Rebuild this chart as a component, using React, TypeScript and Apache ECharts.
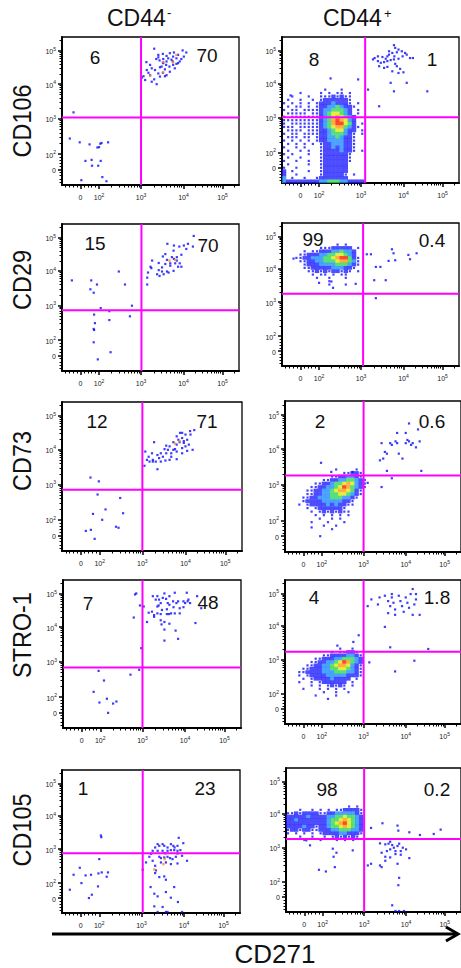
import React, { useEffect, useRef } from "react";
import * as echarts from "echarts";

// ---------------- axis (biexponential display units) ----------------
const axisMin = 1.1;
const axisMax = 5.4;
const xTickValues = [1.55, 2, 3.02, 4.05, 5];
const yTickValues = [1.55, 2, 3.02, 4.03, 5];
const tickBases = ["0", "10", "10", "10", "10"];
const tickExponents = ["", "2", "3", "4", "5"];

// ---------------- texts ----------------
const columnLabels = ["CD44", "CD44"];
const columnSigns = ["-", "+"];
const rowLabels = ["CD106", "CD29", "CD73", "STRO-1", "CD105"];
const xAxisTitle = "CD271";

// quadrant percentages [upper-left, upper-right]
const negPercents = [["6", "70"], ["15", "70"], ["12", "71"], ["7", "48"], ["1", "23"]];
const posPercents = [["8", "1"], ["99", "0.4"], ["2", "0.6"], ["4", "1.8"], ["98", "0.2"]];

// quadrant gates [x, y]
const negGates = [[3.02, 3.06], [3.03, 2.88], [3.02, 2.87], [3.02, 2.86], [3.05, 2.9]];
const posGates = [[3.12, 3.04], [3.07, 3.27], [3.02, 3.28], [3.02, 3.26], [3.02, 3.28]];

// ---------------- CD44- events ----------------
const cd106NegDots = [
  [3.34,5.06],[3.15,4.67],[3.24,4.59],[3.44,4.88],[3.55,4.91],[3.64,4.85],[3.72,4.93],[3.82,4.95],[3.92,4.88],[4.03,5.01],
  [4.12,4.95],[3.88,4.78],[3.76,4.74],[3.64,4.69],[3.56,4.64],[3.47,4.72],[3.39,4.76],[3.28,4.49],[3.36,4.44],[3.48,4.52],
  [3.6,4.46],[3.71,4.54],[3.8,4.59],[3.92,4.64],[4.0,4.76],[4.06,4.83],[3.55,4.36],[3.64,4.29],[3.24,4.29],[3.12,4.15],
  [3.28,4.1],[3.4,4.03],[3.34,4.17],[3.48,4.25],[3.6,4.26],[3.72,4.39],[3.84,4.49],[3.88,4.62],[3.8,4.83],[3.68,4.78],
  [3.56,4.76],[3.44,4.81],[3.52,4.54],[3.44,4.34],[3.16,4.44],[3.08,4.26],[3.2,4.36],[3.55,4.66],[3.63,4.59],[3.79,4.69],
  [3.96,4.69],[3.04,4.22],
  [1.38,3.21],[1.29,2.45],[1.53,2.34],[1.77,2.28],[2.03,2.3],[2.06,2.32],[2.22,2.34],[1.96,2.19],[2.0,2.2],[1.67,1.8],
  [1.82,1.83],[2.04,1.8],[1.83,1.66],[1.98,1.66],[1.57,1.24],[2.08,1.33],[2.18,1.21]
];
const cd106NegHot = [[3.56,4.67],[3.8,4.66],[3.88,4.88],[3.24,4.27],[3.56,4.37]];

const cd29NegDots = [
  [4.3,5.05],[4.16,4.82],[4.28,4.74],[4.06,4.77],[3.95,4.74],[3.82,4.77],[3.81,4.62],[3.66,4.82],[4.0,4.5],[3.89,4.43],
  [3.77,4.43],[3.61,4.52],[3.55,4.45],[3.65,4.35],[3.73,4.25],[3.85,4.25],[3.96,4.25],[3.92,4.15],[3.81,4.03],[3.65,4.01],
  [3.53,4.13],[3.45,4.05],[3.41,3.93],[3.47,3.88],[3.57,3.93],[3.29,4.33],[3.25,4.15],[3.19,3.98],[3.17,3.83],[3.17,3.63],
  [3.27,4.11],[3.73,4.18],[3.69,3.98],[4.0,4.15],[3.82,4.38],[4.12,4.67],[3.89,4.33],[3.61,4.23],[3.45,4.26],[3.53,4.01],
  [1.34,3.75],[1.81,3.75],[1.95,3.63],[1.79,3.49],[1.87,3.39],[2.48,4.01],[2.63,3.63],[2.8,3.01],[2.04,2.94],
  [2.25,2.85],[1.88,2.75],[2.25,2.59],[2.75,2.7],[1.9,2.5],[1.87,2.33],[1.88,2.3],[1.87,1.94],[2.28,1.65],[1.97,1.44]
];
const cd29NegHot = [[3.71,4.33],[3.85,4.35]];

const cd73NegDots = [
  [4.26,4.59],[4.16,4.56],[4.05,4.46],[3.92,4.51],[3.84,4.41],[3.88,4.31],[3.97,4.36],[4.01,4.27],[4.09,4.31],[4.13,4.17],
  [4.05,4.12],[4.09,3.99],[4.22,4.02],[3.97,4.07],[3.84,4.17],[3.76,4.24],[3.67,4.12],[3.59,4.14],[3.63,4.02],[3.55,4.04],
  [3.84,3.97],[3.97,3.92],[3.71,3.92],[3.59,3.92],[3.46,3.92],[3.38,3.87],[3.42,3.78],[3.51,3.82],[3.25,3.92],[3.3,4.24],
  [3.27,3.73],[3.17,3.82],[3.19,3.68],[3.27,3.68],[3.38,3.46],[3.13,3.73],[3.84,3.75],[3.67,3.73],[3.57,3.71],[3.46,3.68],
  [3.34,3.68],[3.71,3.82],[3.8,4.04],[3.91,4.24],[3.76,4.02],[4.01,4.22],[3.97,4.51],[4.17,4.46],[3.09,3.97],[3.07,3.56],
  [1.78,3.22],[1.98,3.11],[1.95,2.73],[2.49,2.63],[2.14,2.3],[1.84,2.17],[2.06,2.0],[2.56,2.19],[2.39,1.8],[2.45,1.77],
  [1.67,1.68],[1.79,1.71],[1.88,1.45]
];
const cd73NegHot = [[3.8,4.2],[3.91,4.27]];

const stro1NegDots = [
  [3.27,4.93],[3.38,4.63],[3.41,4.66],[3.46,4.73],[3.55,5.01],[3.59,4.85],[3.49,4.53],[3.61,4.55],[3.67,4.68],[3.76,4.78],
  [3.8,5.03],[3.84,4.73],[3.88,4.78],[3.77,4.61],[3.71,4.43],[3.8,4.43],[3.66,4.41],[3.61,4.41],[3.46,4.41],[3.38,4.43],
  [3.25,4.48],[3.3,4.38],[3.17,4.45],[3.13,4.18],[3.3,4.33],[3.46,4.23],[3.55,4.18],[3.67,4.13],[3.48,4.11],[3.55,3.96],
  [3.82,3.93],[3.88,3.69],[3.55,3.64],[3.92,4.43],[4.01,4.78],[4.05,4.73],[4.09,5.03],[4.13,4.83],[4.11,4.78],[4.17,4.73],
  [3.92,4.58],[4.01,4.61],[4.3,4.15],[4.44,4.58],[3.42,4.83],[3.51,4.88],[3.63,4.73],[3.34,4.83],[4.34,4.93],[3.05,4.63],
  [3.67,4.93],[3.38,4.93],
  [2.81,4.31],[2.87,5.01],[2.84,4.98],[2.96,4.66],[2.99,3.42],
  [1.96,2.76],[2.09,2.48],[2.73,2.65],[1.84,2.15],[1.98,1.84],[2.16,1.95],[2.31,1.81],[2.39,1.87],[2.19,1.54],[2.94,2.79]
];

const cd105NegDots = [
  [3.29,2.97],[3.25,2.88],[3.35,3.07],[3.41,3.17],[3.45,3.12],[3.53,3.17],[3.57,3.12],[3.65,3.07],[3.73,3.17],[3.79,3.12],
  [3.82,3.07],[3.89,3.12],[3.92,3.36],[4.03,3.2],[3.96,2.99],[3.89,2.97],[3.81,2.99],[3.73,2.99],[3.65,2.97],[3.53,2.97],
  [3.45,2.79],[3.49,2.75],[3.57,2.77],[3.65,2.79],[3.71,2.75],[3.77,2.72],[3.85,2.79],[3.89,2.59],[3.73,2.57],[3.61,2.62],
  [3.49,2.62],[3.35,2.52],[3.37,2.38],[3.35,2.3],[3.45,2.18],[3.57,2.2],[3.61,2.1],[3.24,1.88],[3.33,1.68],[3.41,1.6],
  [3.61,1.73],[3.81,1.88],[3.73,1.56],[3.33,1.3],[3.53,1.28],[3.9,1.43],[3.41,1.13],[3.61,1.13],[3.65,1.13],[4.0,1.13],
  [4.12,2.67],[3.13,2.62],[3.05,2.4],[3.21,2.79],[3.29,2.67],[3.89,2.89],[4.0,2.82],[3.58,2.9],[3.41,2.97],
  [2.04,3.43],[2.05,3.38],[2.0,2.72],
  [1.29,1.8],[1.38,2.25],[1.53,2.46],[1.57,2.0],[1.67,2.23],[1.8,2.25],[1.98,2.29],[2.06,2.32],[2.21,2.32],[2.18,2.19],
  [1.82,1.65],[1.75,1.55],[1.97,1.9]
];
const cd105NegHot = [[3.61,2.89],[3.58,2.72],[3.33,2.41],[3.55,2.57]];

// ---------------- CD44+ events ----------------
const cd106PosDots = [
  [3.82,5.16],[3.85,5.08],[3.93,5.03],[4.01,4.98],[3.89,4.95],[3.78,4.93],[3.7,4.88],[3.66,4.83],[3.54,4.81],[3.43,4.83],
  [3.35,4.78],[3.31,4.74],[3.43,4.69],[3.5,4.64],[3.58,4.66],[3.66,4.69],[3.74,4.72],[3.82,4.74],[3.93,4.76],[4.03,4.83],
  [4.09,4.93],[4.13,4.88],[4.21,4.78],[4.28,4.78],[3.85,4.61],[3.89,4.54],[3.97,4.46],[4.05,4.36],[3.78,4.39],[3.66,4.52],
  [3.46,4.54],[3.58,4.49],[4.13,4.05],[3.82,3.8],[3.74,4.05],[4.63,3.8],[3.46,3.36],[3.19,3.85],[3.93,4.34],[3.7,4.98],
  [3.62,4.76],[3.83,4.83],[2.28,4.18],[2.95,4.15],[1.31,3.68]
];
const cd29PosDots = [
  [3.16,4.46],[3.26,4.46],[3.38,4.08],[3.62,3.68],[3.69,4.26],[3.77,4.61],[3.81,4.49],[3.85,4.28],[4.17,4.44],[4.21,4.31],
  [4.37,4.49],[3.34,3.68],[3.38,3.14],[3.49,4.08],[1.38,4.33],[2.0,3.6],[2.34,3.45],[2.89,3.57],[2.3,3.64]
];
const cd73PosDots = [
  [3.46,4.2],[3.54,3.95],[3.5,3.76],[3.59,3.9],[3.67,4.2],[3.71,4.15],[3.8,4.25],[3.84,4.2],[3.88,3.9],[3.97,3.76],
  [4.05,4.2],[4.09,4.29],[4.13,4.25],[4.18,4.15],[4.22,4.2],[4.3,4.08],[4.39,4.25],[3.84,4.49],[4.05,4.49],[4.13,4.76],
  [4.35,4.59],[3.42,3.71],[3.59,3.41],[3.71,3.2],[4.43,3.41],[3.46,2.95],[3.12,3.07],[1.98,3.64],[2.23,3.38],[2.75,3.38],
  [1.96,1.55],[1.75,1.8]
];
const stro1PosDots = [
  [3.12,4.62],[3.21,4.82],[3.37,4.67],[3.41,4.88],[3.54,4.93],[3.62,4.77],[3.67,4.62],[3.71,4.98],[3.75,4.72],[3.79,4.52],
  [3.88,4.93],[3.92,4.77],[3.96,4.62],[4.0,4.45],[4.05,4.88],[4.09,4.72],[4.13,4.57],[4.17,4.98],[4.22,5.13],[4.26,4.67],
  [4.3,4.82],[4.39,4.36],[4.22,4.36],[3.79,4.36],[3.62,4.41],[3.54,4.0],[3.67,3.39],[4.26,2.99],[4.6,3.34],[3.79,2.67],
  [3.16,2.94],[4.3,4.98],[3.71,4.88],[2.9,3.75],[2.77,3.55],[2.38,3.44]
];
const cd105PosDots = [
  [1.6,3.24],[1.69,3.09],[2.25,2.99],[2.27,2.75],[2.34,2.87],[2.3,2.44],[1.91,2.36],[2.08,2.31],[2.74,2.94],
  [3.19,3.61],[3.47,3.75],[3.84,3.68],[3.86,3.53],[4.13,3.48],[4.39,3.4],[4.73,3.43],[4.9,3.56],
  [3.41,3.15],[3.54,3.12],[3.62,3.14],[3.71,3.1],[3.75,3.02],[3.84,3.07],[3.88,3.14],[3.97,3.02],[4.05,2.97],[3.92,2.92],
  [3.79,2.92],[3.66,2.97],[3.58,2.92],[3.45,2.87],[3.54,2.75],[3.66,2.73],[3.79,2.83],[3.92,2.81],[4.13,2.71],[3.19,2.54],
  [3.11,2.49],[3.41,2.49],[3.54,2.63],[3.84,2.54],[3.88,2.12],[3.86,1.9],[3.71,1.3],[3.79,1.13],[3.88,1.13],[4.0,1.13],
  [3.45,2.44],[3.66,3.2]
];

// density maps of the main CD44+ populations, read cell by cell
// level: 1 sparse, 2 blue, 3 light blue, 4 green, 5 yellow, 6 orange, 7 red
const cd106PosDensity = { x0: 1.15, y0: 3.85, step: 0.1, rows: [
  "..........1...1.....",
  "....1....1.1.11.1...",
  "..1...1..11121211...",
  ".1..1..1.12222221...",
  "1.1.1.1.122232221.1.",
  ".1.11.1.1223343221..",
  "1.11.111123344432.1.",
  ".11111.1123455432.1.",
  "1.1111111234565432..",
  "111111111234676532..",
  "1.1111111234677542.1",
  "111.111112345664321.",
  ".1111.111223455322.1",
  "1.11.1111223444321.1",
  ".111.11.1223343221..",
  "1.1.1.1.1223333221..",
  ".1.1.1.1.122333221..",
  "1..1.1...122323221..",
  ".1..1.1..122223221.1",
  "1.1...1..12222221...",
  ".1..1....12222221...",
  "1..1..1..12222221...",
  ".1....1..1222222....",
  "1..1.....1222222....",
  "2.1...1..1222222....",
  "2..1.....1222221.1..",
  "3.1..1..12222222....",
  "32222222233444332222"
] };
const cd29PosDensity = { x0: 1.45, y0: 4.75, step: 0.1, rows: [
  "..........1.1...",
  "......11122222.1",
  "..1.11222334332.",
  ".11222334455432.",
  "1122333445677421",
  ".112233444566431",
  "..12223333444321",
  "..1122222333221.",
  "...11212122121.1",
  "....1.11.1.11...",
  ".....1..1...1...",
  "........1.......",
  "........1...1..."
] };
const cd73PosDensity = { x0: 1.45, y0: 3.45, step: 0.1, rows: [
  ".........1....1..",
  "...........11221.",
  "........11223321.",
  "......11223344321",
  "....1122344565321",
  "...11223345764321",
  "..11223345665421.",
  "..11223344554321.",
  ".11223334443321..",
  ".1222233333221...",
  "1.122223232211...",
  "..1.12222221.....",
  "...1.12121211....",
  "....1.1.1.1.1....",
  ".....1..1.1......",
  "...1...1...1.....",
  "......1..1.......",
  "........1........"
] };
const stro1PosDensity = { x0: 1.45, y0: 3.35, step: 0.1, rows: [
  "..........1..1..",
  "........1.11221.",
  "......1122223321",
  "....112223344432",
  "...1122334576432",
  "..11223345665321",
  ".112223344554321",
  "1122223334443321",
  "1.12222333332221",
  ".1.1222232222.1.",
  "1..1.1222222.1..",
  "...1.1.12121.1..",
  ".1...1.1.1.1....",
  "......1..1..1...",
  "....1....1......",
  ".......1........"
] };
const cd105PosDensity = { x0: 1.15, y0: 4.25, step: 0.1, rows: [
  "...............1.1.",
  "...1..1.1.1.1122221",
  "1121222211223333321",
  "2222232222334454432",
  "2232222222344565432",
  "2222222222345675432",
  "2222322122344565432",
  "1221221122233444332",
  "1.1.1.1.12222332221",
  "...1..1..1.1212121.",
  "....1...1...1.1.1.."
] };

// ---------------- layout (pixels) ----------------
const gridBoxes = [
  [62, 37, 177, 148], [282, 37, 177, 146],
  [62, 224, 177, 147], [282, 223, 177, 143],
  [62, 402, 180, 149], [285, 401, 177, 151],
  [63, 580, 178, 148], [285, 580, 177, 144],
  [62, 770, 178, 143], [286, 768, 177, 144],
];
const percentPos = [
  [[95, 57], [207, 55]], [[314, 59], [432, 59]],
  [[95, 243], [208, 245]], [[313, 239], [432, 240]],
  [[97, 421], [207, 421]], [[320, 421], [432, 421]],
  [[88, 603], [208, 602]], [[314, 597], [437, 597]],
  [[83, 788], [205, 788]], [[327, 789], [437, 789]],
];
const rowLabelY = [121, 280, 461, 635, 830];

const levelColors = ["", "#1414ff", "#2020ff", "#1e8cff", "#2fd85a", "#dcea10", "#ff9a10", "#ff1a00"];

function densityPoints(d: { x0: number; y0: number; step: number; rows: string[] } | null) {
  const pts: number[][] = [];
  if (!d) return pts;
  d.rows.forEach((row, j) => {
    for (let i = 0; i < row.length; i++) {
      const c = row[i];
      if (c >= "1" && c <= "7") pts.push([+(d.x0 + i * d.step).toFixed(3), +(d.y0 - j * d.step).toFixed(3), +c]);
    }
  });
  return pts;
}

function minorTicks(t: number[]) {
  const out: number[] = [];
  const lin = (t[1] - t[0]) / 5;
  for (let k = 1; k <= 4; k++) {
    out.push(t[0] + k * lin);
    const neg = t[0] - k * lin;
    if (neg > axisMin) out.push(neg);
  }
  for (let d = 1; d < 4; d++) for (let m = 2; m <= 9; m++) out.push(t[d] + Math.log10(m) * (t[d + 1] - t[d]));
  const last = t[4] - t[3];
  for (let m = 2; m <= 9; m++) {
    const v = t[4] + Math.log10(m) * last;
    if (v < axisMax) out.push(v);
  }
  return out;
}

const labelFor = (ticks: number[]) => (v: number) => {
  const i = ticks.findIndex((t) => Math.abs(t - v) < 1e-6);
  if (i < 0) return "";
  return tickExponents[i] ? `{b|${tickBases[i]}}{s|${tickExponents[i]}}` : `{b|${tickBases[i]}}`;
};

const tickRich = {
  b: { fontSize: 7, lineHeight: 9, verticalAlign: "bottom", fontFamily: "Liberation Sans", color: "#222" },
  s: { fontSize: 5, lineHeight: 5, verticalAlign: "top", fontFamily: "Liberation Sans", color: "#222" },
};

export default function App() {
  const ref = useRef<HTMLDivElement>(null);
  useEffect(() => {
    if (!ref.current) return;
    const chart = echarts.init(ref.current, undefined, { renderer: "svg" });

    const panels = [
      { dots: cd106NegDots, hot: cd106NegHot, density: null, gate: negGates[0], pct: negPercents[0] },
      { dots: cd106PosDots, hot: [], density: cd106PosDensity, gate: posGates[0], pct: posPercents[0] },
      { dots: cd29NegDots, hot: cd29NegHot, density: null, gate: negGates[1], pct: negPercents[1] },
      { dots: cd29PosDots, hot: [], density: cd29PosDensity, gate: posGates[1], pct: posPercents[1] },
      { dots: cd73NegDots, hot: cd73NegHot, density: null, gate: negGates[2], pct: negPercents[2] },
      { dots: cd73PosDots, hot: [], density: cd73PosDensity, gate: posGates[2], pct: posPercents[2] },
      { dots: stro1NegDots, hot: [], density: null, gate: negGates[3], pct: negPercents[3] },
      { dots: stro1PosDots, hot: [], density: stro1PosDensity, gate: posGates[3], pct: posPercents[3] },
      { dots: cd105NegDots, hot: cd105NegHot, density: null, gate: negGates[4], pct: negPercents[4] },
      { dots: cd105PosDots, hot: [], density: cd105PosDensity, gate: posGates[4], pct: posPercents[4] },
    ];

    const xMinor = minorTicks(xTickValues);
    const yMinor = minorTicks(yTickValues);
    const grid: any[] = [];
    const xAxis: any[] = [];
    const yAxis: any[] = [];
    const series: any[] = [];
    const graphic: any[] = [];

    panels.forEach((p, i) => {
      const [l, t, w, h] = gridBoxes[i];
      grid.push({ left: l, top: t, width: w, height: h, show: true, borderColor: "#000", borderWidth: 1.3, backgroundColor: "#fff" });
      const common = { type: "value", gridIndex: i, min: axisMin, max: axisMax, splitLine: { show: false } };
      xAxis.push({
        ...common, position: "bottom",
        axisLine: { show: true, onZero: false, lineStyle: { color: "#000", width: 2 } },
        axisTick: { show: true, customValues: xTickValues, length: 4, lineStyle: { color: "#000", width: 1.5 } },
        axisLabel: { show: true, customValues: xTickValues, formatter: labelFor(xTickValues), margin: 7, rich: tickRich, color: "#222" },
      });
      xAxis.push({
        ...common, position: "bottom",
        axisLine: { show: false, onZero: false },
        axisTick: { show: true, customValues: xMinor, length: 2.5, lineStyle: { color: "#000", width: 1 } },
        axisLabel: { show: false },
      });
      yAxis.push({
        ...common, position: "left",
        axisLine: { show: true, onZero: false, lineStyle: { color: "#000", width: 2 } },
        axisTick: { show: true, customValues: yTickValues, length: 4, lineStyle: { color: "#000", width: 1.5 } },
        axisLabel: { show: true, customValues: yTickValues, formatter: labelFor(yTickValues), margin: 6, rich: tickRich, color: "#222", align: "right" },
      });
      yAxis.push({
        ...common, position: "left",
        axisLine: { show: false, onZero: false },
        axisTick: { show: true, customValues: yMinor, length: 2.5, lineStyle: { color: "#000", width: 1 } },
        axisLabel: { show: false },
      });
      const ax = { xAxisIndex: 2 * i, yAxisIndex: 2 * i };
      const dens = densityPoints(p.density as any);
      if (dens.length) {
        series.push({
          type: "scatter", ...ax, data: dens, symbol: "rect", silent: true, z: 2,
          symbolSize: (v: number[]) => (v[2] === 1 ? [2.2, 2.2] : [4.4, 3.7]),
          itemStyle: { color: (pp: any) => levelColors[pp.value[2]] },
        });
      }
      series.push({ type: "scatter", ...ax, data: p.dots, symbol: "rect", symbolSize: 2.2, silent: true, z: 3, itemStyle: { color: "#0a0aff" } });
      if (p.hot.length) {
        series.push({ type: "scatter", ...ax, data: p.hot, symbol: "rect", symbolSize: 2.4, silent: true, z: 3, itemStyle: { color: "#ff8a2a" } });
      }
      const [gx, gy] = p.gate;
      series.push({ type: "line", ...ax, data: [[gx, axisMin], [gx, axisMax]], symbol: "none", silent: true, z: 6, lineStyle: { color: "#ff00ff", width: 2 } });
      series.push({ type: "line", ...ax, data: [[axisMin, gy], [axisMax, gy]], symbol: "none", silent: true, z: 6, lineStyle: { color: "#ff00ff", width: 2 } });

      p.pct.forEach((txt, k) => {
        const [px, py] = percentPos[i][k];
        graphic.push({
          type: "text", x: px, y: py, z: 20,
          style: { text: txt, fill: "#111", font: '19px "Liberation Sans"', textAlign: "center", textVerticalAlign: "middle" },
        });
      });
    });

    // column headers
    const headerX = [107, 323];
    const signPos = [[167, 12], [384, 13]];
    columnLabels.forEach((lab, k) => {
      graphic.push({ type: "text", x: headerX[k], y: 18, style: { text: lab, fill: "#111", font: '23px "Liberation Sans"', textAlign: "left", textVerticalAlign: "middle" } });
      graphic.push({ type: "text", x: signPos[k][0], y: signPos[k][1], style: { text: columnSigns[k], fill: "#111", font: '13px "Liberation Sans"', textAlign: "left", textVerticalAlign: "middle" } });
    });
    // row labels
    rowLabels.forEach((lab, r) => {
      graphic.push({ type: "text", x: 22, y: rowLabelY[r], rotation: Math.PI / 2, scaleX: 0.9,
        style: { text: lab, fill: "#111", font: '26px "Liberation Sans"', textAlign: "center", textVerticalAlign: "middle" } });
    });
    // x arrow + title
    graphic.push({ type: "line", shape: { x1: 52, y1: 934, x2: 457, y2: 934 }, style: { stroke: "#000", lineWidth: 3 } });
    graphic.push({ type: "polyline", shape: { points: [[446, 927], [458, 934], [446, 941]] }, style: { stroke: "#000", lineWidth: 3, fill: null } });
    graphic.push({ type: "text", x: 275, y: 954, style: { text: xAxisTitle, fill: "#111", font: '26px "Liberation Sans"', textAlign: "center", textVerticalAlign: "middle" } });

    chart.setOption({ animation: false, backgroundColor: "#fff", grid, xAxis, yAxis, series, graphic });
    return () => chart.dispose();
  }, []);
  return <div ref={ref} style={{ position: "fixed", left: 0, top: 0, width: 461, height: 968, background: "#fff" }} />;
}
